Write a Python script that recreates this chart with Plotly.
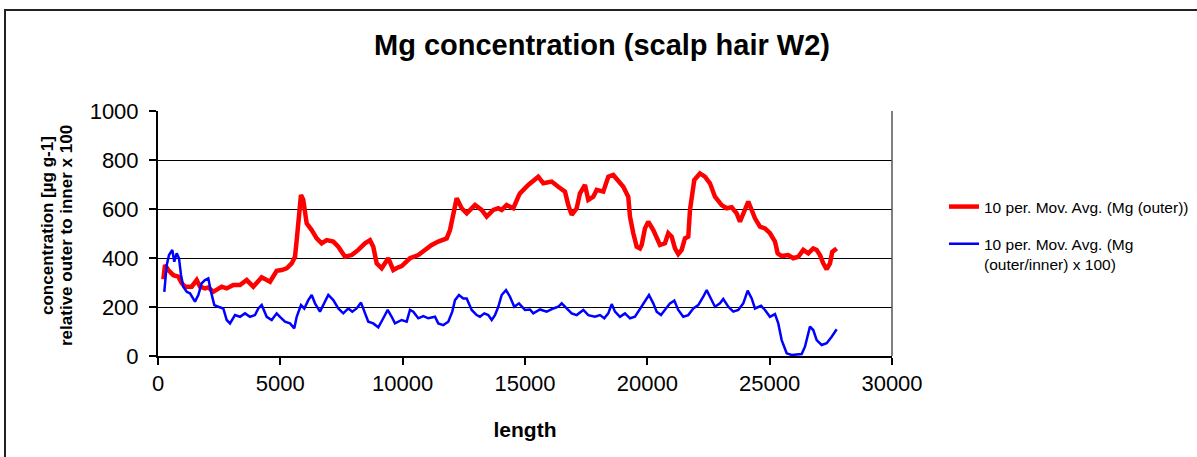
import plotly.graph_objects as go

# ---- data ----
red_x = [220, 286, 421, 625, 830, 969, 1103, 1377, 1582, 1717, 1921, 2056, 2260, 2603, 2808, 3077, 3351, 3625, 3895, 4238, 4577, 4851,
         5056, 5260, 5464, 5599, 5669, 5763, 5844, 5938, 6077, 6282, 6486, 6690, 6895, 7165, 7369, 7643, 7917, 8186, 8460, 8664, 8799,
         8938, 9143, 9412, 9617, 9821, 9960, 10299, 10638, 10912, 11186, 11456, 11799, 11934, 12069, 12208, 12412, 12617, 12956, 13230,
         13434, 13704, 13908, 14047, 14251, 14521, 14725, 14795, 15134, 15408, 15542, 15747, 16090, 16360, 16634, 16769, 16908, 17112,
         17247, 17452, 17587, 17791, 17930, 18199, 18404, 18608, 18813, 19017, 19221, 19291, 19426, 19565, 19699, 19769, 19903, 20038,
         20243, 20517, 20721, 20856, 20995, 21130, 21264, 21403, 21538, 21673, 21743, 21918, 22151, 22355, 22560, 22764, 23038, 23243,
         23447, 23652, 23786, 23962, 24126, 24265, 24400, 24604, 24808, 25013, 25217, 25327, 25491, 25760, 25965, 26169, 26374, 26578,
         26782, 26921, 27056, 27191, 27330, 27465, 27559, 27739]
red_y = [313, 371, 351, 330, 324, 297, 283, 283, 310, 283, 276, 280, 262, 283, 276, 290, 290, 310, 283, 321, 303, 348,
         351, 358, 378, 405, 473, 596, 657, 637, 541, 514, 480, 460, 473, 467, 446, 405, 412, 433, 460, 473, 446,
         378, 358, 399, 351, 362, 367, 399, 412, 433, 453, 467, 480, 514, 582, 644, 603, 582, 616, 596,
         569, 596, 603, 596, 616, 603, 650, 664, 698, 718, 732, 705, 712, 691, 671, 616, 576, 603,
         664, 698, 637, 650, 678, 671, 732, 739, 712, 691, 650, 569, 501, 446, 439, 453, 521, 548,
         514, 453, 460, 501, 487, 439, 416, 433, 480, 487, 596, 718, 745, 732, 705, 650, 616, 603,
         607, 582, 548, 596, 630, 596, 562, 528, 521, 501, 467, 419, 408, 412, 399, 405, 433, 419,
         439, 433, 412, 378, 354, 378, 425, 439]

blue_x = [257, 356, 450, 584, 666, 764, 858, 940, 1034, 1173, 1308, 1512, 1647, 1786, 1921, 2056, 2166, 2301, 2464, 2669, 2808,
          2943, 3147, 3351, 3556, 3760, 3964, 4099, 4238, 4443, 4647, 4851, 4986, 5190, 5395, 5571, 5669, 5844, 5979, 6143, 6282,
          6417, 6621, 6825, 6960, 7165, 7369, 7573, 7778, 7941, 8121, 8297, 8460, 8595, 8799, 9004, 9208, 9388, 9551, 9686, 9960,
          10164, 10299, 10434, 10638, 10843, 11047, 11321, 11456, 11660, 11864, 12028, 12139, 12302, 12478, 12617, 12821, 13025,
          13160, 13336, 13499, 13638, 13773, 13908, 14047, 14223, 14386, 14562, 14754, 14999, 15204, 15339, 15613, 15886, 16160,
          16360, 16499, 16704, 16908, 17112, 17385, 17587, 17860, 18065, 18241, 18404, 18543, 18678, 18882, 19087, 19291, 19495,
          19680, 19903, 20067, 20243, 20382, 20558, 20721, 20926, 21102, 21264, 21468, 21673, 21878, 22082, 22286, 22425, 22560,
          22764, 22969, 23103, 23308, 23513, 23717, 23921, 24101, 24265, 24400, 24650, 24808, 25012, 25217, 25352, 25491, 25695,
          25899, 26308, 26443, 26647, 26782, 26921, 27125, 27330, 27534, 27739]
blue_y = [262, 371, 412, 433, 385, 419, 399, 331, 283, 262, 256, 222, 249, 297, 310, 317, 262, 208, 201, 194, 147,
          133, 167, 160, 174, 160, 167, 194, 208, 160, 147, 174, 160, 140, 133, 113, 160, 208, 194, 228, 249,
          215, 181, 222, 249, 228, 194, 174, 194, 181, 194, 218, 174, 140, 133, 117, 154, 188, 160, 133, 147,
          140, 188, 181, 154, 163, 154, 160, 133, 126, 140, 181, 228, 249, 235, 235, 188, 167,
          160, 174, 167, 147, 167, 201, 249, 269, 242, 201, 215, 188, 190, 174, 190, 181, 194,
          201, 215, 194, 174, 167, 188, 167, 160, 167, 154, 174, 212, 181, 160, 174, 154, 160,
          190, 222, 249, 215, 181, 167, 188, 215, 226, 188, 160, 167, 194, 208, 242, 269, 242,
          201, 215, 233, 201, 181, 188, 215, 267, 235, 194, 205, 188, 160, 171, 133, 65, 11,
          4, 8, 38, 120, 106, 65, 45, 52, 79, 109]

red_name = "10 per. Mov. Avg. (Mg (outer))"
blue_name = "10 per. Mov. Avg. (Mg<br>(outer/inner) x 100)"
title_text = "Mg concentration (scalp hair W2)"
x_title = "length"
y_title_lines = ["concentration [µg g-1]", "relative outer to inner x 100"]
x_ticks = [0, 5000, 10000, 15000, 20000, 25000, 30000]
y_ticks = [0, 200, 400, 600, 800, 1000]

W, H = 1197, 457
L, R, T, B = 158, 892, 111, 356  # plot area pixels

fig = go.Figure()
fig.add_trace(go.Scatter(x=red_x, y=red_y, mode="lines", name=red_name, legendgroup="a",
                         line=dict(color="#FF0000", width=4.5)))
fig.add_trace(go.Scatter(x=blue_x, y=blue_y, mode="lines", name=blue_name, legendgroup="b",
                         line=dict(color="#0000FF", width=2.5)))

def px2paper_x(p):
    return (p - L) / (R - L)

def py2paper_y(p):
    return (B - p) / (B - T)

font = "Liberation Sans, Arial, sans-serif"

fig.update_layout(
    width=W, height=H,
    margin=dict(l=L, r=W - R, t=T, b=H - B, autoexpand=False),
    paper_bgcolor="white", plot_bgcolor="white",
    font=dict(family=font, color="black"),
    title=dict(text="<b>" + title_text + "</b>", x=602 / W, xanchor="center",
               y=1 - 45 / H, yanchor="middle", yref="container",
               font=dict(size=29, family=font, color="black")),
    showlegend=True,
    legend=dict(x=px2paper_x(944), xanchor="left", y=py2paper_y(190), yanchor="top",
                font=dict(size=15.5, family=font, color="black"),
                valign="top", tracegroupgap=14, bgcolor="rgba(0,0,0,0)"),
    xaxis=dict(range=[0, 30000], tickvals=x_ticks, ticktext=[str(v) for v in x_ticks],
               showgrid=False, zeroline=False, showline=True, linecolor="black", linewidth=2,
               ticks="outside", ticklen=7, tickwidth=1.5, tickcolor="black",
               tickfont=dict(size=22, family=font, color="black"),
               title=dict(text="<b>" + x_title + "</b>", font=dict(size=21, family=font, color="black"),
                          standoff=27)),
    yaxis=dict(range=[0, 1000], tickvals=y_ticks, ticktext=[str(v) for v in y_ticks],
               showgrid=True, gridcolor="black", gridwidth=1.3, zeroline=False,
               showline=True, linecolor="black", linewidth=2,
               ticks="outside", ticklen=7, tickwidth=1.5, tickcolor="black",
               ticklabelstandoff=6,
               tickfont=dict(size=22, family=font, color="black")),
    shapes=[
        # plot-area border (right side)
        dict(type="line", xref="paper", yref="paper", x0=1, x1=1, y0=0, y1=1,
             line=dict(color="#555555", width=1.5), layer="above"),
        # chart outer border
        dict(type="rect", xref="paper", yref="paper",
             x0=px2paper_x(5), x1=px2paper_x(1205), y0=py2paper_y(465), y1=py2paper_y(10),
             line=dict(color="#222222", width=2), fillcolor="rgba(0,0,0,0)", layer="below"),
    ],
    annotations=[
        dict(text="<b>" + y_title_lines[0] + "</b>", xref="paper", yref="paper",
             x=px2paper_x(47), y=py2paper_y(225), xanchor="center", yanchor="middle",
             textangle=-90, showarrow=False,
             font=dict(size=17, family=font, color="black")),
        dict(text="<b>" + y_title_lines[1] + "</b>", xref="paper", yref="paper",
             x=px2paper_x(66), y=py2paper_y(236), xanchor="center", yanchor="middle",
             textangle=-90, showarrow=False,
             font=dict(size=17, family=font, color="black")),
    ],
)

fig.write_html("out.html", config={"displayModeBar": False},
               post_script="document.body.style.margin='0px';")
